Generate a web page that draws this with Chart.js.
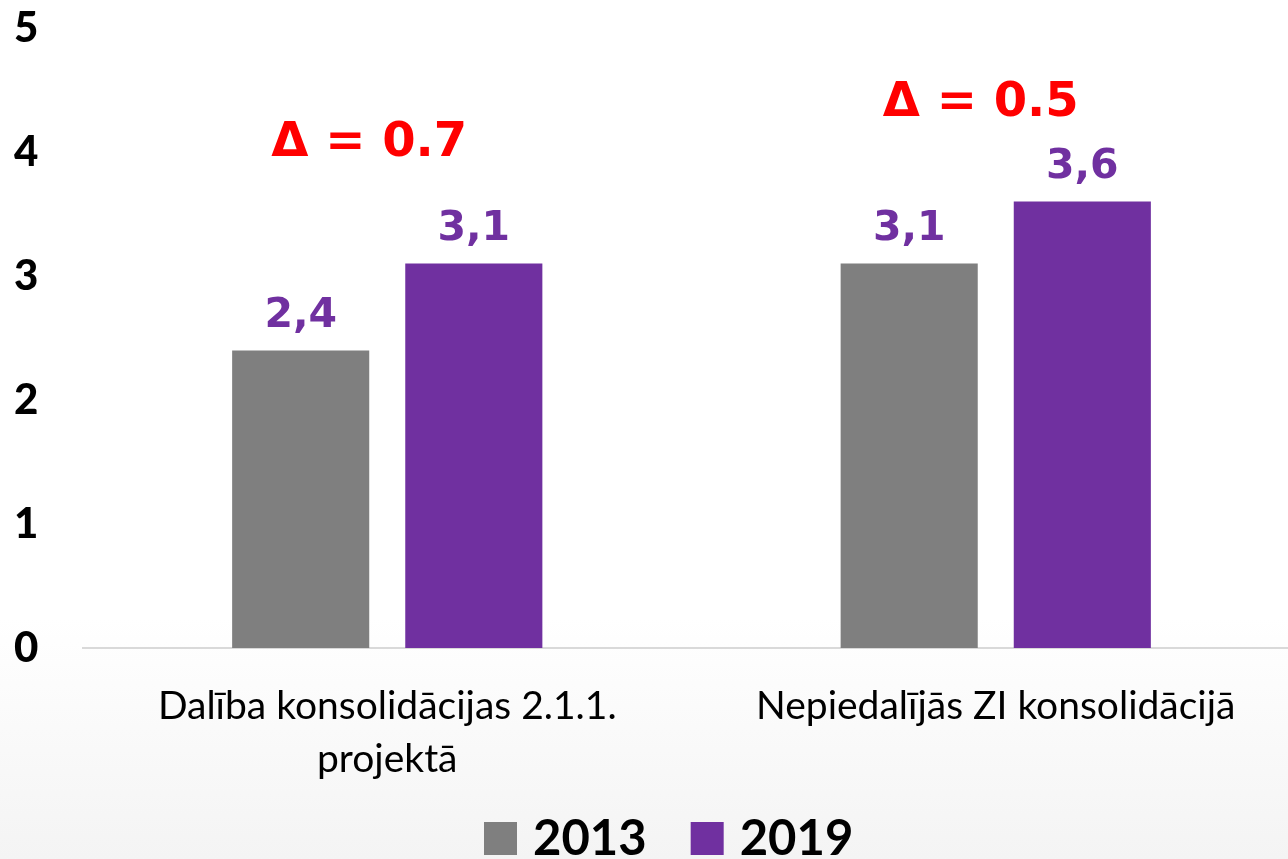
<!DOCTYPE html>
<html>
<head>
<meta charset="utf-8">
<script src="https://cdn.jsdelivr.net/npm/chart.js@4/dist/chart.umd.min.js"></script>
<style>
  html, body { margin: 0; padding: 0; }
  body {
    width: 1288px; height: 859px; overflow: hidden;
    background: linear-gradient(to bottom, #ffffff 0%, #ffffff 72%, #f4f4f4 100%);
  }
  canvas { display: block; }
</style>
</head>
<body>
<canvas id="chart" width="1300" height="859" style="width:1300px;height:859px"></canvas>
<script>
const categories = [
  ['Dalība konsolidācijas 2.1.1.', 'projektā'],
  'Nepiedalījās ZI konsolidācijā'
];
const seriesNames = ['2013', '2019'];
const values2013 = [2.4, 3.1];
const values2019 = [3.1, 3.6];
const yTicks = [0, 1, 2, 3, 4, 5];
const deltaLabels = ['Δ = 0.7', 'Δ = 0.5'];
const deltaLevels = [4.07, 4.39];

const GREY = '#7f7f7f';
const PURPLE = '#7030a0';

// value labels above bars, red delta notes and the legend at the bottom
const labelPlugin = {
  id: 'labels',
  afterDatasetsDraw(chart) {
    const ctx = chart.ctx;
    ctx.save();
    ctx.textAlign = 'center';
    ctx.textBaseline = 'middle';
    ctx.font = 'bold 41px "DejaVu Sans"';
    ctx.fillStyle = PURPLE;
    chart.data.datasets.forEach((ds, i) => {
      chart.getDatasetMeta(i).data.forEach((bar, j) => {
        ctx.fillText(String(ds.data[j]).replace('.', ','), bar.x, bar.y - 34);
      });
    });
    const xs = chart.scales.x, ys = chart.scales.y;
    ctx.font = 'bold 48px "DejaVu Sans"';
    ctx.fillStyle = '#ff0000';
    const shift = [-18, -15];
    deltaLabels.forEach((t, j) => {
      ctx.fillText(t, xs.getPixelForValue(j) + shift[j], ys.getPixelForValue(deltaLevels[j]));
    });

    // legend
    ctx.font = 'bold 49px Lato';
    ctx.textAlign = 'left';
    ctx.textBaseline = 'alphabetic';
    let x = 484;
    chart.data.datasets.forEach((ds) => {
      ctx.fillStyle = ds.backgroundColor;
      ctx.fillRect(x, 822, 33, 33);
      ctx.fillStyle = '#000';
      ctx.fillText(ds.label, x + 49, 855);
      x += 49 + ctx.measureText(ds.label).width + 44;
    });
    ctx.restore();
  }
};

new Chart(document.getElementById('chart'), {
  type: 'bar',
  data: {
    labels: categories,
    datasets: [
      { label: seriesNames[0], data: values2013, backgroundColor: GREY },
      { label: seriesNames[1], data: values2019, backgroundColor: PURPLE }
    ]
  },
  options: {
    responsive: false,
    animation: false,
    devicePixelRatio: 1,
    categoryPercentage: 0.569,
    barPercentage: 0.792,
    layout: { padding: { top: 28, right: 0, bottom: 76, left: 14 } },
    scales: {
      y: {
        min: 0, max: 5,
        afterBuildTicks(scale) { scale.ticks = yTicks.map(v => ({ value: v })); },
        afterFit(scale) { scale.width = 69; },
        grid: { display: false, drawTicks: false },
        border: { display: false },
        ticks: {
          color: '#000',
          align: 'center',
          crossAlign: 'far',
          padding: 0,
          font: { family: 'Lato', weight: '900', size: 42 }
        }
      },
      x: {
        afterFit(scale) { scale.height = 135; },
        grid: { display: false, drawTicks: false },
        border: { display: true, color: '#d9d9d9', width: 2 },
        ticks: {
          color: '#000',
          padding: 32,
          maxRotation: 0,
          font: { family: 'Lato', size: 39, lineHeight: 1.35 }
        }
      }
    },
    plugins: {
      tooltip: { enabled: false },
      legend: { display: false }
    }
  },
  plugins: [labelPlugin]
});
</script>
</body>
</html>
